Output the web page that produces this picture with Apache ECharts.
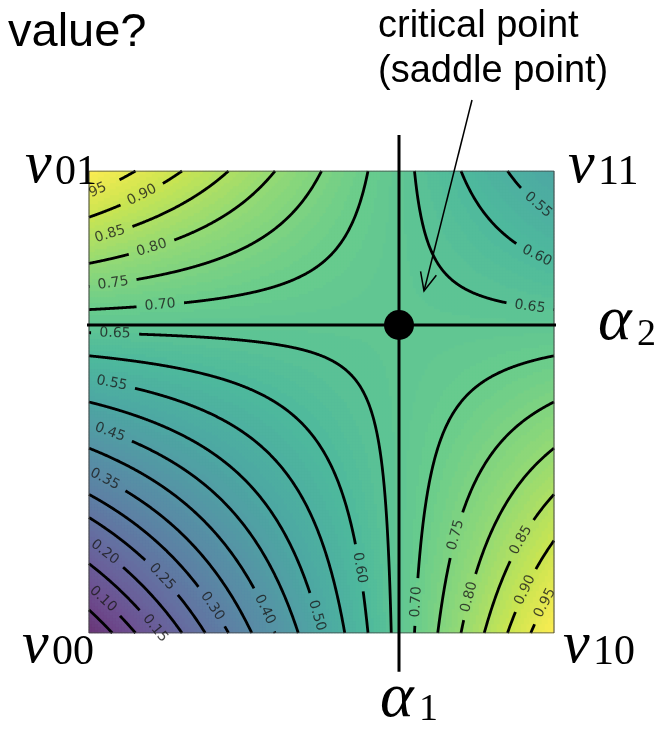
<!DOCTYPE html>
<html>
<head>
<meta charset="utf-8">
<script src="https://cdn.jsdelivr.net/npm/echarts@6/dist/echarts.min.js"></script>
<style>
  html, body { margin: 0; padding: 0; background: #fff; }
  #chart { width: 659px; height: 729px; }
</style>
</head>
<body>
<div id="chart"></div>
<script>
// Corner values of the bilinear cell
const v00 = 0.0;
const v10 = 1.0;
const v01 = 1.0;
const v11 = 0.5;

// Contour levels drawn as black iso-lines
const levels = [0.05, 0.10, 0.15, 0.20, 0.25, 0.30, 0.35, 0.40, 0.45, 0.50,
                0.55, 0.60, 0.65, 0.70, 0.75, 0.80, 0.85, 0.90, 0.95];

// Inline contour labels: [level, which coordinate is given, its value, optional shown text]
const labelSpots = [
  [0.95, 'x', 0.019, '95'], [0.90, 'x', 0.114], [0.85, 'x', 0.045], [0.80, 'x', 0.135],
  [0.75, 'x', 0.052], [0.70, 'x', 0.153],
  [0.65, 'x', 0.056], [0.55, 'x', 0.049], [0.45, 'x', 0.045], [0.35, 'x', 0.034],
  [0.20, 'x', 0.034], [0.10, 'x', 0.030], [0.25, 'x', 0.157], [0.15, 'x', 0.142],
  [0.30, 'x', 0.265], [0.40, 'x', 0.378], [0.50, 'x', 0.49], [0.60, 'y', 0.141],
  [0.70, 'y', 0.067], [0.75, 'y', 0.212], [0.80, 'y', 0.078], [0.85, 'y', 0.201],
  [0.90, 'y', 0.093], [0.95, 'y', 0.065],
  [0.55, 'x', 0.966], [0.60, 'x', 0.963], [0.65, 'x', 0.948]
];

// viridis colour stops (0, 0.1, ..., 1), shown at 80% opacity on white
const viridis = ['#440154', '#482475', '#414487', '#355f8d', '#2a788e', '#21918c',
                 '#22a884', '#44bf70', '#7ad151', '#bddf26', '#fde725'];
const fillAlpha = 0.8;

function blend(hex, alpha) {
  const n = parseInt(hex.slice(1), 16);
  const ch = [(n >> 16) & 255, (n >> 8) & 255, n & 255]
    .map(v => Math.round(alpha * v + (1 - alpha) * 255));
  return 'rgb(' + ch.join(',') + ')';
}

// Bilinear form f = a + b x + c y + d x y
const a = v00, b = v10 - v00, c = v01 - v00, d = v00 - v10 - v01 + v11;
const xs = -c / d, ys = -b / d;           // critical (saddle) point
function f(x, y) {
  return v00 * (1 - x) * (1 - y) + v10 * x * (1 - y) + v01 * (1 - x) * y + v11 * x * y;
}
function yAt(L, x) { return (L - a - b * x) / (c + d * x); }
function xAt(L, y) { return (L - a - c * y) / (b + d * y); }

const NX = 155, NY = 154, BAND = 0.0125;
const chart = echarts.init(document.getElementById('chart'), null, { renderer: 'canvas' });

const GRID = { left: 89, top: 171, width: 465, height: 462 };

chart.setOption({
  animation: false,
  grid: Object.assign({ show: false }, GRID),
  xAxis: [
    { type: 'category', gridIndex: 0, show: false, data: Array.from({ length: NX }, (_, i) => i) },
    { type: 'value', gridIndex: 0, show: false, min: 0, max: 1 }
  ],
  yAxis: [
    { type: 'category', gridIndex: 0, show: false, data: Array.from({ length: NY }, (_, i) => i) },
    { type: 'value', gridIndex: 0, show: false, min: 0, max: 1 }
  ]
});

const toPx = p => chart.convertToPixel({ xAxisIndex: 1, yAxisIndex: 1 }, p);

// Filled field, quantised into thin bands
const cells = [];
for (let i = 0; i < NX; i++) {
  for (let j = 0; j < NY; j++) {
    const v = f((i + 0.5) / NX, (j + 0.5) / NY);
    const q = Math.min(Math.floor(v / BAND), Math.round(1 / BAND) - 1) * BAND + BAND / 2;
    cells.push([i, j, q]);
  }
}

// Label anchors on the curves
const measureCtx = document.createElement('canvas').getContext('2d');
const LABEL_FONT_SIZE = 14;
measureCtx.font = LABEL_FONT_SIZE + 'px "DejaVu Sans"';
const anchors = labelSpots.map(s => {
  const L = s[0];
  const pt = s[1] === 'x' ? [s[2], yAt(L, s[2])] : [xAt(L, s[2]), s[2]];
  const text = s[3] || L.toFixed(2);
  const eps = 0.004;
  let p1, p2;
  if (s[1] === 'x') { p1 = toPx([s[2] - eps, yAt(L, s[2] - eps)]); p2 = toPx([s[2] + eps, yAt(L, s[2] + eps)]); }
  else { p1 = toPx([xAt(L, s[2] - eps), s[2] - eps]); p2 = toPx([xAt(L, s[2] + eps), s[2] + eps]); }
  let ang = Math.atan2(-(p2[1] - p1[1]), p2[0] - p1[0]) * 180 / Math.PI;
  if (ang > 90) ang -= 180;
  if (ang <= -90) ang += 180;
  const w = measureCtx.measureText(L.toFixed(2)).width;
  return { L, pt, px: toPx(pt), text, ang, r: w / 2 + 8 };
});

// Contour polylines, one per branch, split where labels sit
const polylines = [];
levels.forEach(L => {
  [-1, 1].forEach(side => {
    const pts = [];
    const N = 900;
    for (let i = 0; i <= N; i++) {
      const t = i / N;
      if ((t - xs) * side > 0) {
        const y = yAt(L, t);
        if (y >= 0 && y <= 1) pts.push([t, y]);
      }
      const x = xAt(L, t);
      if (isFinite(x) && x >= 0 && x <= 1 && (x - xs) * side > 0) pts.push([x, t]);
    }
    if (pts.length < 2) return;
    pts.sort((p, q) => p[0] - q[0]);
    const mine = anchors.filter(an => an.L === L);
    let seg = [];
    pts.forEach(p => {
      const pp = toPx(p);
      const hidden = mine.some(an => Math.hypot(pp[0] - an.px[0], pp[1] - an.px[1]) < an.r);
      if (hidden) {
        if (seg.length > 1) polylines.push(seg);
        seg = [];
      } else {
        seg.push(p);
      }
    });
    if (seg.length > 1) polylines.push(seg);
  });
});

// Axis lines through the critical point
const vLine = [[xs, 1.078], [xs, -0.084]];
const hLine = [[-0.041, ys], [1.06, ys]];
const box = [[0, 0], [1, 0], [1, 1], [0, 1], [0, 0]];

// Arrow from the note to the critical point
const arrowFrom = [472, 100], arrowTo = [424, 291];
const dir = Math.atan2(arrowTo[1] - arrowFrom[1], arrowTo[0] - arrowFrom[0]);
const headLen = 20, headSpread = 24 * Math.PI / 180;
const head1 = [arrowTo[0] - headLen * Math.cos(dir - headSpread), arrowTo[1] - headLen * Math.sin(dir - headSpread)];
const head2 = [arrowTo[0] - headLen * Math.cos(dir + headSpread), arrowTo[1] - headLen * Math.sin(dir + headSpread)];

const serif = '"Liberation Serif", "DejaVu Serif", serif';
const sans = '"Liberation Sans", Arial, sans-serif';
function tx(text, x, y, font, extra) {
  return Object.assign({
    type: 'text', x: x, y: y, z: 20,
    style: { text: text, font: font, fill: '#000', align: 'left', verticalAlign: 'middle' }
  }, extra || {});
}

chart.setOption({
  visualMap: {
    type: 'continuous', show: false, min: 0, max: 1, dimension: 2, seriesIndex: 0,
    inRange: { color: viridis.map(h => blend(h, fillAlpha)) }
  },
  series: [
    {
      type: 'heatmap', xAxisIndex: 0, yAxisIndex: 0, data: cells,
      progressive: 0, itemStyle: { borderWidth: 0 }, emphasis: { disabled: true }, z: 1
    },
    {
      type: 'lines', coordinateSystem: 'cartesian2d', xAxisIndex: 1, yAxisIndex: 1,
      polyline: true, silent: true, z: 2,
      lineStyle: { color: '#000', width: 2.8, opacity: 1 },
      data: polylines.map(p => ({ coords: p }))
    },
    {
      type: 'scatter', xAxisIndex: 1, yAxisIndex: 1, symbolSize: 0, silent: true, z: 3,
      data: anchors.map(an => ({
        value: an.pt,
        label: {
          show: true, position: 'inside', formatter: an.text, rotate: an.ang,
          fontSize: LABEL_FONT_SIZE, fontFamily: '"DejaVu Sans"', color: '#1a1a1a'
        }
      }))
    },
    {
      type: 'line', xAxisIndex: 1, yAxisIndex: 1, data: box, symbol: 'none', silent: true, z: 3,
      lineStyle: { color: '#444', width: 1 }
    },
    {
      type: 'line', xAxisIndex: 1, yAxisIndex: 1, data: vLine, symbol: 'none', clip: false, silent: true, z: 4,
      lineStyle: { color: '#000', width: 3 }
    },
    {
      type: 'line', xAxisIndex: 1, yAxisIndex: 1, data: hLine, symbol: 'none', clip: false, silent: true, z: 4,
      lineStyle: { color: '#000', width: 3 }
    },
    {
      type: 'scatter', xAxisIndex: 1, yAxisIndex: 1, data: [[xs, ys]], symbolSize: 30, silent: true, z: 5,
      itemStyle: { color: '#000', opacity: 1 }
    }
  ],
  graphic: [
    tx('value?', 8, 33, '47px ' + sans),
    tx('critical point', 378, 27, '38px ' + sans),
    tx('(saddle point)', 378, 72, '38px ' + sans),
    { type: 'polyline', z: 20, shape: { points: [arrowFrom, arrowTo] }, style: { stroke: '#000', lineWidth: 1.5, fill: null } },
    { type: 'polyline', z: 20, shape: { points: [head1, arrowTo, head2] }, style: { stroke: '#000', lineWidth: 1.5, fill: null } },
    tx('v', 22, 646, 'italic 60px ' + serif), tx('00', 52, 653, '42px ' + serif),
    tx('v', 563, 646, 'italic 60px ' + serif), tx('10', 593, 653, '42px ' + serif),
    tx('v', 25, 166, 'italic 60px ' + serif), tx('01', 55, 173, '42px ' + serif),
    tx('v', 568, 166, 'italic 60px ' + serif), tx('11', 598, 173, '42px ' + serif),
    tx('α', 598, 322, 'italic 64px ' + serif), tx('2', 637, 335, '38px ' + serif),
    tx('α', 380, 699, 'italic 64px ' + serif), tx('1', 419, 710, '38px ' + serif)
  ]
});
</script>
</body>
</html>
